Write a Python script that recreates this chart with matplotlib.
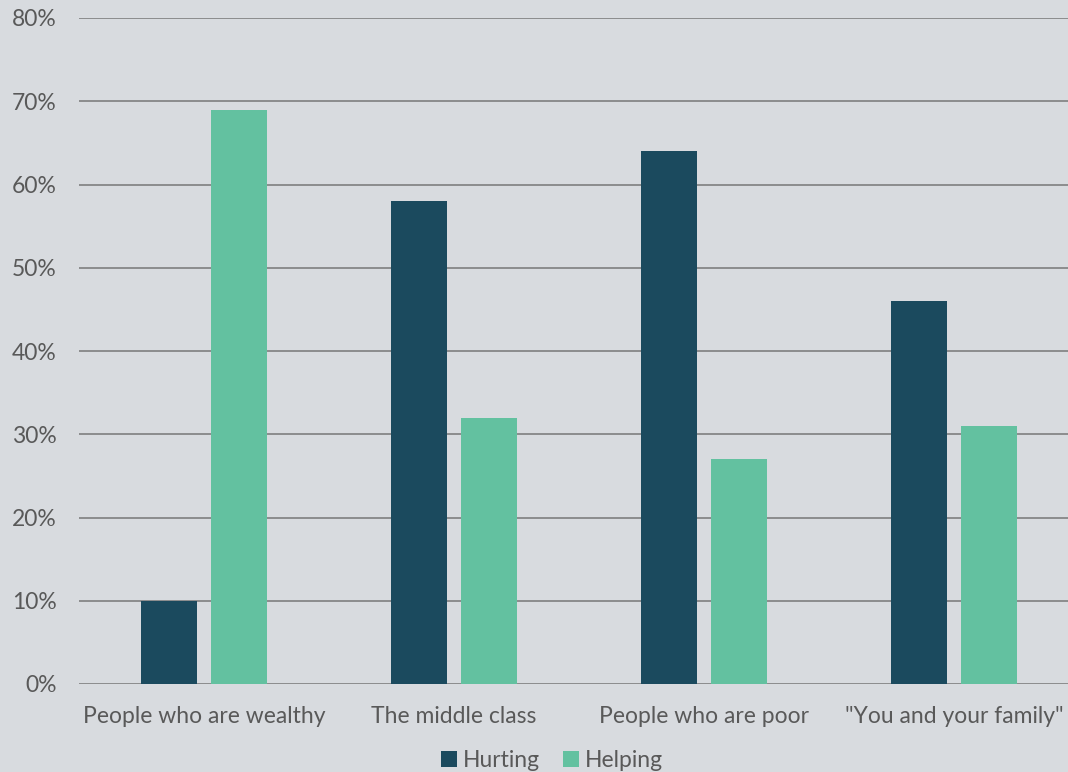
import numpy as np
import matplotlib
matplotlib.use('Agg')
import matplotlib.pyplot as plt
from matplotlib.ticker import PercentFormatter

categories = ['People who are wealthy', 'The middle class', 'People who are poor', '"You and your family"']
hurting = [10, 58, 64, 46]
helping = [69, 32, 27, 31]

bg = '#d8dbdf'
text_col = '#595959'

plt.rcParams['font.family'] = ['Lato', 'DejaVu Sans']

fig = plt.figure(figsize=(10.68, 7.72), dpi=100, facecolor=bg)
ax = fig.add_axes([79/1068, 88/772, 989/1068, 666/772], facecolor=bg)

x = np.arange(len(categories))
w = 0.224
ax.bar(x - 0.14, hurting, w, color='#1b4a5e', label='Hurting', zorder=3)
ax.bar(x + 0.14, helping, w, color='#63c1a0', label='Helping', zorder=3)

ax.set_xlim(-0.5, 3.456)
ax.set_ylim(0, 80)
ax.set_yticks(np.arange(0, 81, 10))
ax.yaxis.set_major_formatter(PercentFormatter(decimals=0))
ax.grid(axis='y', color='#7f7f7f', linewidth=1.2, zorder=0)
ax.set_xticks(x)
ax.set_xticklabels(categories)
for s in ax.spines.values():
    s.set_visible(False)
ax.tick_params(length=0, labelsize=16.5, colors=text_col)
ax.tick_params(axis='y', pad=16)
ax.tick_params(axis='x', pad=16)

leg = fig.legend(loc='lower center', bbox_to_anchor=(0.517, -0.026), ncol=2, frameon=False,
                 fontsize=16.5, handlelength=0.7, handleheight=0.7, handletextpad=0.25,
                 columnspacing=1.0, labelcolor=text_col)

fig.savefig('out.png', dpi=100, facecolor=bg)
